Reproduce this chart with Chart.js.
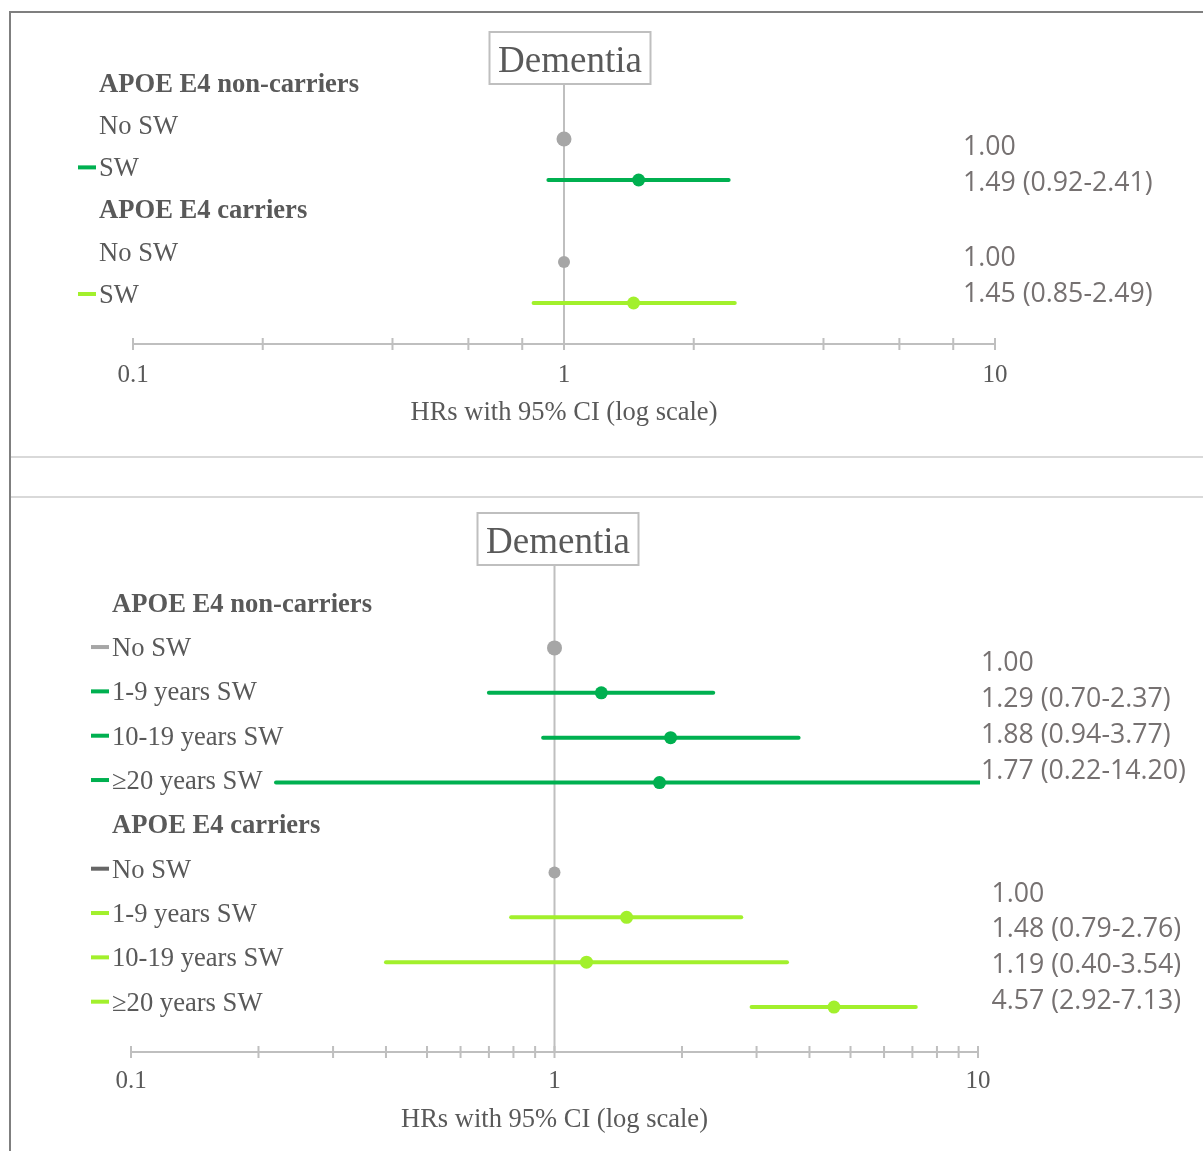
<!DOCTYPE html>
<html>
<head>
<meta charset="utf-8">
<title>Dementia HRs by APOE E4 status</title>
<script src="https://cdn.jsdelivr.net/npm/chart.js@4.4.1/dist/chart.umd.min.js"></script>
<style>
  body { margin: 0; background: #fff; width: 1203px; height: 1151px; overflow: hidden; position: relative; }
  canvas { position: absolute; left: 0; }
  #topChart { top: 0; }
  #bottomChart { top: 497px; }
  .frame-top { position: absolute; left: 9px; top: 11px; width: 1194px; height: 2px; background: #7f7f7f; }
  .frame-left { position: absolute; left: 9px; top: 11px; width: 2px; height: 1140px; background: #7f7f7f; }
  .sep { position: absolute; left: 11px; width: 1192px; height: 2px; background: #d9d9d9; }
</style>
</head>
<body>
<div class="frame-top"></div>
<div class="frame-left"></div>
<div class="sep" style="top:456px"></div>
<div class="sep" style="top:496px"></div>
<canvas id="topChart" width="1203" height="457"></canvas>
<canvas id="bottomChart" width="1203" height="654"></canvas>
<script>
// ---- data: top panel (ever shift work) ----
const topRows = ['APOE E4 non-carriers', 'No SW', 'SW', 'APOE E4 carriers', 'No SW', 'SW'];
const topKinds = ['head', 'ref', 'dark', 'head', 'ref2', 'light'];
const topHR = [null, 1.00, 1.49, null, 1.00, 1.45];
const topLow = [null, null, 0.92, null, null, 0.85];
const topHigh = [null, null, 2.41, null, null, 2.49];
const topTicks = [0.1, 0.2, 0.4, 0.6, 0.8, 1, 2, 4, 6, 8, 10];

// ---- data: bottom panel (duration of shift work) ----
const bottomRows = ['APOE E4 non-carriers', 'No SW', '1-9 years SW', '10-19 years SW', '\u226520 years SW',
                    'APOE E4 carriers', 'No SW', '1-9 years SW', '10-19 years SW', '\u226520 years SW'];
const bottomKinds = ['head', 'ref', 'dark', 'dark', 'dark', 'head', 'ref2', 'light', 'light', 'light'];
const bottomHR = [null, 1.00, 1.29, 1.88, 1.77, null, 1.00, 1.48, 1.19, 4.57];
const bottomLow = [null, null, 0.70, 0.94, 0.22, null, null, 0.79, 0.40, 2.92];
const bottomHigh = [null, null, 2.37, 3.77, 14.20, null, null, 2.76, 3.54, 7.13];
const bottomTicks = [0.1, 0.2, 0.3, 0.4, 0.5, 0.6, 0.7, 0.8, 0.9, 1, 2, 3, 4, 5, 6, 7, 8, 9, 10];

const tickLabels = [0.1, 1, 10];
const axisTitle = 'HRs with 95% CI (log scale)';
const panelTitle = 'Dementia';

// ---- styles ----
const SERIF = '"Liberation Serif", "Times New Roman", serif';
const SANS = '"Open Sans", "Liberation Sans", sans-serif';
const kindStyle = {
  ref:   { point: '#a6a6a6', dash: '#a6a6a6', r: 7.5 },
  ref2:  { point: '#a6a6a6', dash: '#666666', r: 6 },
  dark:  { point: '#00b050', dash: '#00b050', r: 6.5 },
  light: { point: '#a2f02c', dash: '#a2f02c', r: 6.5 }
};

function fmt(i, hr, lo, hi) {
  if (lo[i] === null) return hr[i].toFixed(2);
  return hr[i].toFixed(2) + ' (' + lo[i].toFixed(2) + '-' + hi[i].toFixed(2) + ')';
}

function buildDatasets(kinds, hr, lo, hi) {
  const pts = [], colors = [], radii = [];
  const sets = [];
  hr.forEach((v, i) => {
    if (v === null) return;
    const st = kindStyle[kinds[i]];
    pts.push({ x: v, y: i });
    colors.push(st.point);
    radii.push(st.r);
    if (lo[i] !== null) {
      sets.push({
        data: [{ x: lo[i], y: i }, { x: hi[i], y: i }],
        showLine: true,
        borderColor: st.point,
        borderWidth: 4,
        borderCapStyle: 'round',
        pointRadius: 0,
        clip: 2,
        order: 1
      });
    }
  });
  sets.unshift({
    data: pts,
    pointBackgroundColor: colors,
    pointBorderWidth: 0,
    pointRadius: radii,
    showLine: false,
    order: 0
  });
  return sets;
}

// draws axis, reference line, title box, row labels and HR text
const forestPlugin = {
  id: 'forest',
  beforeDatasetsDraw(chart, args, o) {
    const ctx = chart.ctx;
    const xs = chart.scales.x, yl = chart.scales.yl;
    const axisY = chart.chartArea.bottom;
    const x1 = xs.getPixelForValue(1);
    ctx.save();

    // title box
    const bx = x1 + o.boxShift - 80.5, by = o.boxTop, bw = 161, bh = 52;
    ctx.strokeStyle = '#bfbfbf';
    ctx.lineWidth = 2;
    ctx.strokeRect(bx, by, bw, bh);
    ctx.fillStyle = '#595959';
    ctx.font = '37px ' + SERIF;
    ctx.textAlign = 'center';
    ctx.textBaseline = 'middle';
    ctx.fillText(panelTitle, bx + bw / 2, by + bh / 2 + 4);

    // reference line at HR = 1
    ctx.beginPath();
    ctx.moveTo(x1, by + bh);
    ctx.lineTo(x1, axisY);
    ctx.stroke();

    // axis line and cross ticks
    ctx.beginPath();
    ctx.moveTo(xs.getPixelForValue(o.ticks[0]), axisY);
    ctx.lineTo(xs.getPixelForValue(o.ticks[o.ticks.length - 1]), axisY);
    o.ticks.forEach(v => {
      const px = xs.getPixelForValue(v);
      ctx.moveTo(px, axisY - 6);
      ctx.lineTo(px, axisY + 6);
    });
    ctx.stroke();

    ctx.fillStyle = '#595959';
    ctx.font = '25px ' + SERIF;
    tickLabels.forEach(v => ctx.fillText(String(v), xs.getPixelForValue(v), axisY + o.tickGap));
    ctx.font = '26.5px ' + SERIF;
    ctx.fillText(axisTitle, x1, axisY + o.titleGap);

    // row labels with legend dashes
    ctx.textAlign = 'left';
    o.rows.forEach((label, i) => {
      const py = yl.getPixelForValue(i);
      const kind = o.kinds[i];
      ctx.fillStyle = '#595959';
      ctx.font = (kind === 'head' ? 'bold ' : '') + '26.6px ' + SERIF;
      ctx.fillText(label, o.labelX, py + 2);
      if (kind !== 'head' && o.dashKinds.includes(kind)) {
        ctx.fillStyle = kindStyle[kind].dash;
        ctx.fillRect(o.labelX - 21, py - 2, 18, 4);
      }
    });

    // HR (95% CI) text blocks
    ctx.fillStyle = '#767171';
    ctx.font = '26.7px ' + SANS;
    o.textBlocks.forEach(b => {
      b.rows.forEach((r, k) => {
        ctx.fillText(fmt(r, o.hr, o.lo, o.hi), b.x, b.y + 2 + k * b.lh);
      });
    });
    ctx.restore();
  }
};

function makeChart(id, cfg) {
  return new Chart(document.getElementById(id), {
    type: 'scatter',
    data: { datasets: buildDatasets(cfg.kinds, cfg.hr, cfg.lo, cfg.hi) },
    options: {
      responsive: false,
      animation: false,
      events: [],
      layout: { padding: cfg.padding },
      plugins: { legend: { display: false }, tooltip: { enabled: false }, forest: cfg },
      scales: {
        x: { type: 'logarithmic', min: 0.1, max: 10, display: false },
        y: { type: 'linear', reverse: true, min: -0.5, max: cfg.rows.length, display: false },
        yl: { type: 'linear', reverse: true, min: cfg.labelMin, max: cfg.labelMax, display: false }
      }
    },
    plugins: [forestPlugin]
  });
}

makeChart('topChart', {
  rows: topRows, kinds: topKinds, hr: topHR, lo: topLow, hi: topHigh, ticks: topTicks,
  padding: { left: 133, right: 208, top: 77.5, bottom: 113 },
  labelMin: -0.13, labelMax: 6.185, labelX: 99, dashKinds: ['dark', 'light'],
  boxTop: 32, boxShift: 6, tickGap: 31, titleGap: 69,
  textBlocks: [
    { x: 963, y: 145, lh: 36, rows: [1, 2] },
    { x: 963, y: 256, lh: 36, rows: [4, 5] }
  ]
});

makeChart('bottomChart', {
  rows: bottomRows, kinds: bottomKinds, hr: bottomHR, lo: bottomLow, hi: bottomHigh, ticks: bottomTicks,
  padding: { left: 131, right: 225, top: 83.55, bottom: 99 },
  labelMin: -0.5, labelMax: 10.135, labelX: 112, dashKinds: ['ref', 'ref2', 'dark', 'light'],
  boxTop: 16, boxShift: 3.5, tickGap: 29, titleGap: 68,
  textBlocks: [
    { x: 981, y: 164, lh: 36, rows: [1, 2, 3, 4] },
    { x: 991.5, y: 395, lh: 35.8, rows: [6, 7, 8, 9] }
  ]
});
</script>
</body>
</html>
